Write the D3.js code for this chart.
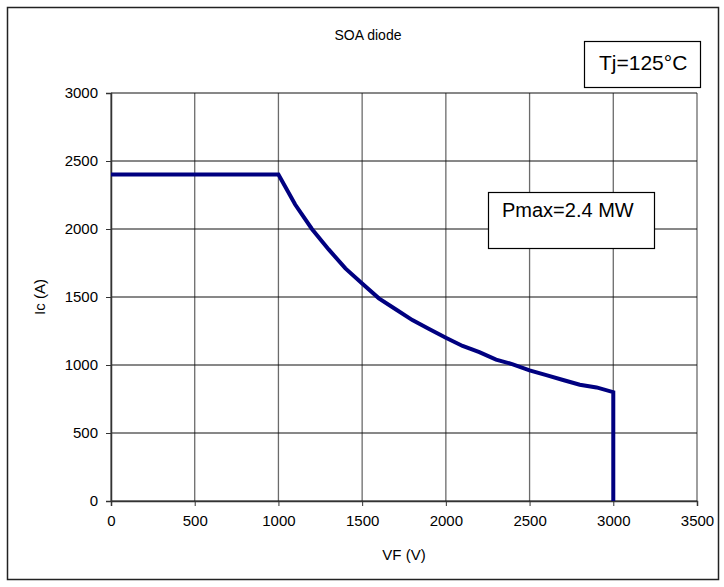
<!DOCTYPE html>
<html>
<head>
<meta charset="utf-8">
<script src="https://cdn.jsdelivr.net/npm/d3@7"></script>
<style>
  body { margin: 0; background: #fff; }
  svg text { font-family: "Liberation Sans", Arial, sans-serif; fill: #000; }
</style>
</head>
<body>
<div id="chart"></div>
<script>
// SOA curve
const vf = [0, 1000, 1100, 1200, 1300, 1400, 1500, 1600, 1700, 1800, 1900, 2000,
  2100, 2200, 2300, 2400, 2500, 2600, 2700, 2800, 2900, 3000, 3000]
const ic = [2400, 2400, 2180, 2000, 1850, 1710, 1600, 1490, 1410, 1330, 1265, 1200,
  1140, 1095, 1040, 1005, 960, 925, 890, 855, 835, 800, 0]
const xTicks = [0, 500, 1000, 1500, 2000, 2500, 3000, 3500]
const yTicks = [0, 500, 1000, 1500, 2000, 2500, 3000]

const W = 724, H = 587
const plot = {left: 111, right: 697, top: 93, bottom: 501}

const svg = d3.select("#chart").append("svg")
  .attr("width", W)
  .attr("height", H)

// outer frame
svg.append("rect")
  .attr("x", 7.5).attr("y", 7.5)
  .attr("width", 711).attr("height", 572)
  .attr("fill", "#fff")
  .attr("stroke", "#222")
  .attr("stroke-width", 1.5)

const x = d3.scaleLinear().domain([0, 3500]).range([plot.left, plot.right])
const y = d3.scaleLinear().domain([0, 3000]).range([plot.bottom, plot.top])

// grid
svg.append("g")
  .selectAll("line")
  .data(xTicks)
  .join("line")
  .attr("x1", d => x(d)).attr("x2", d => x(d))
  .attr("y1", plot.top).attr("y2", plot.bottom)
  .attr("stroke", "#6b6b6b")
  .attr("stroke-width", 1.3)

svg.append("g")
  .selectAll("line")
  .data(yTicks)
  .join("line")
  .attr("x1", plot.left).attr("x2", plot.right)
  .attr("y1", d => y(d)).attr("y2", d => y(d))
  .attr("stroke", "#111")
  .attr("stroke-width", 1)

// axes
const xAxis = svg.append("g")
  .attr("transform", `translate(0, ${plot.bottom})`)
  .call(d3.axisBottom(x).tickValues(xTicks).tickFormat(d3.format("d")).tickSize(5).tickPadding(9))
xAxis.select(".domain").attr("stroke", "#333").attr("stroke-width", 1.5)
xAxis.selectAll(".tick line").attr("stroke", "#333")
xAxis.selectAll("text").style("font-size", "15px")

const yAxis = svg.append("g")
  .attr("transform", `translate(${plot.left}, 0)`)
  .call(d3.axisLeft(y).tickValues(yTicks).tickFormat(d3.format("d")).tickSize(5).tickPadding(8))
yAxis.select(".domain").attr("stroke", "#333").attr("stroke-width", 1.5)
yAxis.selectAll(".tick line").attr("stroke", "#333")
yAxis.selectAll("text").style("font-size", "15px")

// curve
const pts = vf.map((v, i) => [v, ic[i]])
svg.append("path")
  .datum(pts)
  .attr("fill", "none")
  .attr("stroke", "#000080")
  .attr("stroke-width", 4)
  .attr("stroke-linejoin", "miter")
  .attr("d", d3.line().x(d => x(d[0])).y(d => y(d[1])))

// Pmax note
svg.append("rect")
  .attr("x", 488.5).attr("y", 192.5)
  .attr("width", 166).attr("height", 56)
  .attr("fill", "#fff").attr("stroke", "#000").attr("stroke-width", 1.2)
svg.append("text")
  .attr("x", 502).attr("y", 217)
  .style("font-size", "20px")
  .text("Pmax=2.4 MW")

// Tj note
svg.append("rect")
  .attr("x", 584.5).attr("y", 41.5)
  .attr("width", 116).attr("height", 46)
  .attr("fill", "#fff").attr("stroke", "#000").attr("stroke-width", 1.2)
svg.append("text")
  .attr("x", 599).attr("y", 70)
  .style("font-size", "21px")
  .text("Tj=125°C")

// titles
svg.append("text")
  .attr("x", 368).attr("y", 40)
  .attr("text-anchor", "middle")
  .style("font-size", "14px")
  .text("SOA diode")

svg.append("text")
  .attr("x", (plot.left + plot.right) / 2).attr("y", 560)
  .attr("text-anchor", "middle")
  .style("font-size", "15px")
  .text("VF (V)")

svg.append("text")
  .attr("transform", `translate(45, ${(plot.top + plot.bottom) / 2}) rotate(-90)`)
  .attr("text-anchor", "middle")
  .style("font-size", "15px")
  .text("Ic (A)")
</script>
</body>
</html>
